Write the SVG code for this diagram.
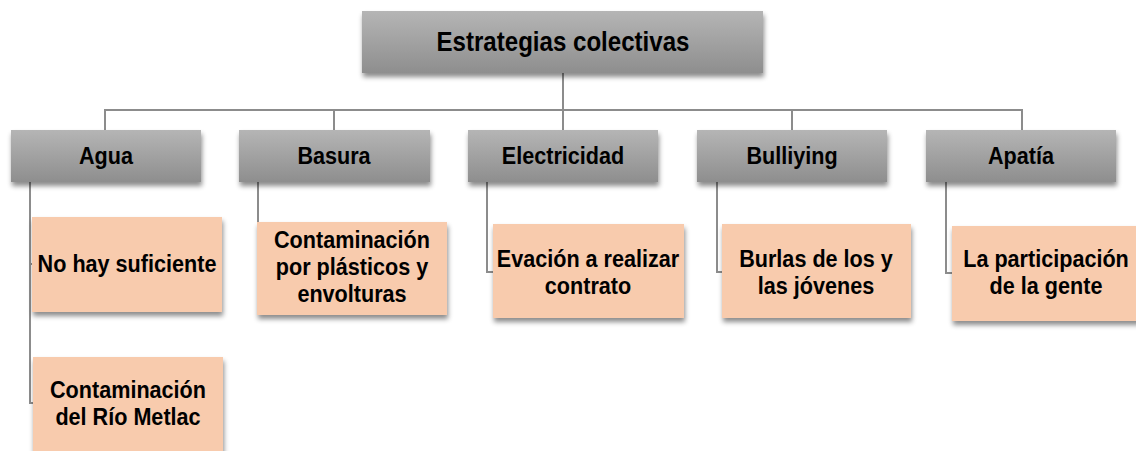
<svg xmlns="http://www.w3.org/2000/svg" width="1136" height="451" viewBox="0 0 1136 451">
<defs>
<linearGradient id="g" x1="0" y1="0" x2="0" y2="1">
<stop offset="0" stop-color="#b5b5b5"/>
<stop offset="1" stop-color="#8e8e8e"/>
</linearGradient>
<filter id="sh" x="-10%" y="-20%" width="125%" height="150%">
<feDropShadow dx="1" dy="4" stdDeviation="2.5" flood-color="#000" flood-opacity="0.45"/>
</filter>
<style>
.gray{fill:url(#g);filter:url(#sh)}
.org{fill:#f8cbad;filter:url(#sh)}
.conn{fill:none;stroke:#8c8c8c;stroke-width:2}
text{font-family:"Liberation Sans",Arial,sans-serif;font-weight:bold;fill:#000;text-anchor:middle}
.t1{font-size:28px}
.t2{font-size:24px}
</style>
</defs>
<g id="connectors">
<path class="conn" d="M563,73 V110"/>
<path class="conn" d="M105,130 V110 H1022 V130"/>
<path class="conn" d="M334,110 V130"/>
<path class="conn" d="M563,110 V130"/>
<path class="conn" d="M792,110 V130"/>
<path class="conn" d="M30,182 V403 H34"/>
<path class="conn" d="M30,264 H34"/>
<path class="conn" d="M258,182 V267 H260"/>
<path class="conn" d="M487,182 V272 H495"/>
<path class="conn" d="M717,182 V272 H724"/>
<path class="conn" d="M946,182 V273 H954"/>
</g>
<g id="root">
<rect class="gray" x="362" y="11" width="401" height="62"/>
<g transform="translate(563,51) scale(0.86,1)"><text class="t1" x="0" y="0">Estrategias colectivas</text></g>
</g>
<g id="agua">
<rect class="gray" x="11" y="130" width="190" height="52"/>
<g transform="translate(106,164) scale(0.9,1)"><text class="t2" x="0" y="0">Agua</text></g>
</g>
<g id="basura">
<rect class="gray" x="239" y="130" width="191" height="52"/>
<g transform="translate(334,164) scale(0.9,1)"><text class="t2" x="0" y="0">Basura</text></g>
</g>
<g id="electricidad">
<rect class="gray" x="468" y="130" width="190" height="52"/>
<g transform="translate(563,164) scale(0.9,1)"><text class="t2" x="0" y="0">Electricidad</text></g>
</g>
<g id="bulliying">
<rect class="gray" x="697" y="130" width="190" height="52"/>
<g transform="translate(792,164) scale(0.9,1)"><text class="t2" x="0" y="0">Bulliying</text></g>
</g>
<g id="apatia">
<rect class="gray" x="926" y="130" width="190" height="52"/>
<g transform="translate(1021,164) scale(0.9,1)"><text class="t2" x="0" y="0">Apatía</text></g>
</g>
<g id="agua-1">
<rect class="org" x="32" y="217" width="190" height="95"/>
<g transform="translate(127,272) scale(0.9,1)"><text class="t2" x="0" y="0">No hay suficiente</text></g>
</g>
<g id="agua-2">
<rect class="org" x="33" y="357" width="190" height="100"/>
<g transform="translate(128,398) scale(0.9,1)"><text class="t2" x="0" y="0">Contaminación</text><text class="t2" x="0" y="27">del Río Metlac</text></g>
</g>
<g id="basura-1">
<rect class="org" x="257" y="222" width="190" height="93"/>
<g transform="translate(352,248) scale(0.9,1)"><text class="t2" x="0" y="0">Contaminación</text><text class="t2" x="0" y="27">por plásticos y</text><text class="t2" x="0" y="54">envolturas</text></g>
</g>
<g id="electricidad-1">
<rect class="org" x="493" y="224" width="191" height="94"/>
<g transform="translate(588,267) scale(0.9,1)"><text class="t2" x="0" y="0">Evación a realizar</text><text class="t2" x="0" y="27">contrato</text></g>
</g>
<g id="bulliying-1">
<rect class="org" x="722" y="224" width="189" height="94"/>
<g transform="translate(816,267) scale(0.9,1)"><text class="t2" x="0" y="0">Burlas de los y</text><text class="t2" x="0" y="27">las jóvenes</text></g>
</g>
<g id="apatia-1">
<rect class="org" x="952" y="226" width="190" height="95"/>
<g transform="translate(1046,267) scale(0.9,1)"><text class="t2" x="0" y="0">La participación</text><text class="t2" x="0" y="27">de la gente</text></g>
</g>
</svg>
